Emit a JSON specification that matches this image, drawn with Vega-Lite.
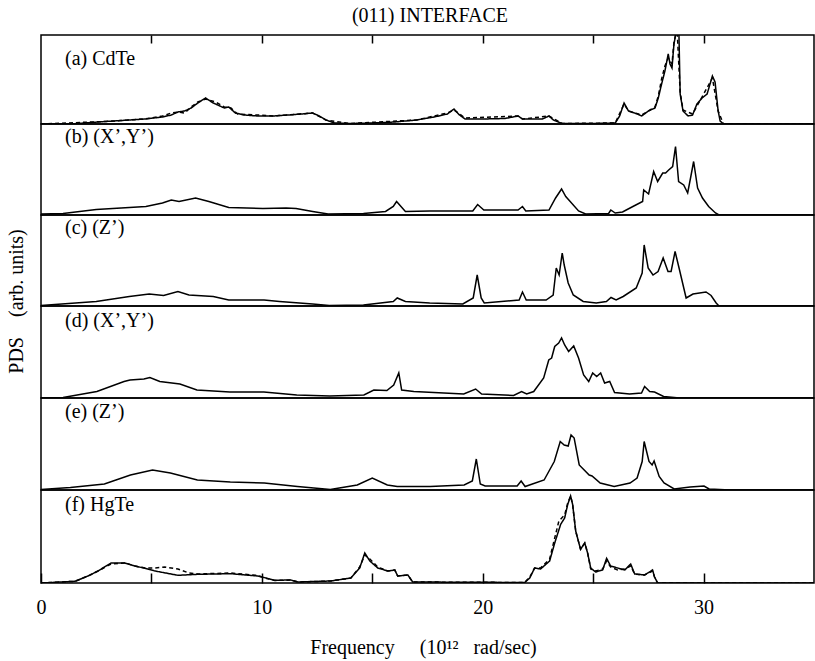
{
  "$schema": "https://vega.github.io/schema/vega-lite/v6.json",
  "padding": {"left": 5, "top": 5, "right": 0, "bottom": 5},
  "title": {"text": "(011) INTERFACE", "anchor": "middle", "dx": 20, "offset": 8},
  "spacing": 0,
  "bounds": "flush",
  "config": {
    "font": "Liberation Serif",
    "view": {"stroke": "black", "strokeWidth": 1.5},
    "concat": {"spacing": 0},
    "title": {"font": "Liberation Serif", "fontSize": 20, "fontWeight": "normal", "color": "black"},
    "axis": {"labelFont": "Liberation Serif", "titleFont": "Liberation Serif", "labelFontSize": 20, "titleFontSize": 20, "titleFontWeight": "normal", "labelColor": "black", "titleColor": "black", "tickColor": "black", "domain": false, "grid": false}
  },
  "datasets": {
    "a": [
      {"x":0,"y":0,"s":"solid"},{"x":1.5,"y":0.3,"s":"solid"},{"x":2.9,"y":2.5,"s":"solid"},{"x":4.0,"y":4,"s":"solid"},{"x":4.7,"y":5,"s":"solid"},{"x":5.5,"y":7,"s":"solid"},{"x":5.9,"y":9,"s":"solid"},{"x":6.2,"y":12,"s":"solid"},{"x":6.5,"y":13,"s":"solid"},{"x":6.8,"y":16,"s":"solid"},{"x":7.1,"y":21,"s":"solid"},{"x":7.45,"y":26,"s":"solid"},{"x":7.8,"y":21,"s":"solid"},{"x":8.3,"y":16,"s":"solid"},{"x":8.5,"y":17,"s":"solid"},{"x":8.8,"y":11,"s":"solid"},{"x":9.2,"y":9,"s":"solid"},{"x":9.8,"y":8,"s":"solid"},{"x":10.5,"y":8,"s":"solid"},{"x":11.2,"y":9,"s":"solid"},{"x":11.8,"y":10,"s":"solid"},{"x":12.3,"y":11,"s":"solid"},{"x":12.6,"y":8,"s":"solid"},{"x":12.9,"y":4,"s":"solid"},{"x":13.3,"y":1,"s":"solid"},{"x":14,"y":0.5,"s":"solid"},{"x":15,"y":1,"s":"solid"},{"x":16,"y":2,"s":"solid"},{"x":17,"y":4,"s":"solid"},{"x":17.8,"y":7,"s":"solid"},{"x":18.4,"y":10,"s":"solid"},{"x":18.7,"y":15,"s":"solid"},{"x":18.95,"y":9,"s":"solid"},{"x":19.2,"y":5,"s":"solid"},{"x":20,"y":5,"s":"solid"},{"x":21,"y":5.5,"s":"solid"},{"x":21.6,"y":8,"s":"solid"},{"x":21.8,"y":5,"s":"solid"},{"x":22.7,"y":5,"s":"solid"},{"x":23.0,"y":8,"s":"solid"},{"x":23.2,"y":4,"s":"solid"},{"x":23.6,"y":0.5,"s":"solid"},{"x":25,"y":0.5,"s":"solid"},{"x":26.0,"y":1,"s":"solid"},{"x":26.2,"y":8,"s":"solid"},{"x":26.4,"y":21,"s":"solid"},{"x":26.6,"y":13,"s":"solid"},{"x":27.0,"y":10,"s":"solid"},{"x":27.2,"y":8,"s":"solid"},{"x":27.5,"y":13,"s":"solid"},{"x":27.8,"y":16,"s":"solid"},{"x":27.95,"y":26,"s":"solid"},{"x":28.1,"y":40,"s":"solid"},{"x":28.25,"y":53,"s":"solid"},{"x":28.4,"y":70,"s":"solid"},{"x":28.48,"y":60,"s":"solid"},{"x":28.57,"y":56,"s":"solid"},{"x":28.66,"y":80,"s":"solid"},{"x":28.78,"y":95,"s":"solid"},{"x":28.88,"y":95,"s":"solid"},{"x":28.94,"y":30,"s":"solid"},{"x":29.07,"y":13,"s":"solid"},{"x":29.3,"y":8,"s":"solid"},{"x":29.5,"y":9,"s":"solid"},{"x":29.7,"y":20,"s":"solid"},{"x":29.93,"y":26,"s":"solid"},{"x":30.16,"y":30,"s":"solid"},{"x":30.4,"y":48,"s":"solid"},{"x":30.52,"y":42,"s":"solid"},{"x":30.66,"y":13,"s":"solid"},{"x":30.75,"y":3,"s":"solid"},{"x":30.9,"y":0,"s":"solid"},{"x":35,"y":0,"s":"solid"},
      {"x":0,"y":0,"s":"dashed"},{"x":2.9,"y":2.5,"s":"dashed"},{"x":4.7,"y":5,"s":"dashed"},{"x":5.5,"y":8,"s":"dashed"},{"x":5.9,"y":11,"s":"dashed"},{"x":6.2,"y":12,"s":"dashed"},{"x":6.5,"y":11,"s":"dashed"},{"x":6.8,"y":17,"s":"dashed"},{"x":7.1,"y":22,"s":"dashed"},{"x":7.45,"y":25,"s":"dashed"},{"x":7.9,"y":22,"s":"dashed"},{"x":8.3,"y":17,"s":"dashed"},{"x":8.6,"y":16,"s":"dashed"},{"x":8.9,"y":10,"s":"dashed"},{"x":9.8,"y":9,"s":"dashed"},{"x":10.5,"y":8,"s":"dashed"},{"x":12.3,"y":11,"s":"dashed"},{"x":12.9,"y":4,"s":"dashed"},{"x":14,"y":0.5,"s":"dashed"},{"x":17,"y":4,"s":"dashed"},{"x":18.4,"y":11,"s":"dashed"},{"x":18.7,"y":14,"s":"dashed"},{"x":19.2,"y":6,"s":"dashed"},{"x":21.6,"y":8,"s":"dashed"},{"x":21.8,"y":5,"s":"dashed"},{"x":23.0,"y":8,"s":"dashed"},{"x":23.6,"y":0.5,"s":"dashed"},{"x":26.0,"y":1,"s":"dashed"},{"x":26.4,"y":20,"s":"dashed"},{"x":26.6,"y":13,"s":"dashed"},{"x":27.2,"y":9,"s":"dashed"},{"x":27.8,"y":17,"s":"dashed"},{"x":27.95,"y":28,"s":"dashed"},{"x":28.1,"y":45,"s":"dashed"},{"x":28.25,"y":58,"s":"dashed"},{"x":28.4,"y":66,"s":"dashed"},{"x":28.57,"y":60,"s":"dashed"},{"x":28.66,"y":82,"s":"dashed"},{"x":28.8,"y":95,"s":"dashed"},{"x":28.94,"y":32,"s":"dashed"},{"x":29.07,"y":14,"s":"dashed"},{"x":29.5,"y":10,"s":"dashed"},{"x":29.93,"y":27,"s":"dashed"},{"x":30.4,"y":46,"s":"dashed"},{"x":30.66,"y":13,"s":"dashed"},{"x":30.9,"y":0,"s":"dashed"},{"x":35,"y":0,"s":"dashed"}
    ],
    "b": [
      {"x":0,"y":1,"s":"solid"},{"x":1,"y":1.5,"s":"solid"},{"x":2.5,"y":5.5,"s":"solid"},{"x":4.75,"y":8.5,"s":"solid"},{"x":5.5,"y":12,"s":"solid"},{"x":5.9,"y":15,"s":"solid"},{"x":6.25,"y":13.5,"s":"solid"},{"x":7.0,"y":17,"s":"solid"},{"x":7.6,"y":13.5,"s":"solid"},{"x":8.5,"y":7.5,"s":"solid"},{"x":10.05,"y":6.5,"s":"solid"},{"x":11.1,"y":7,"s":"solid"},{"x":11.55,"y":6.5,"s":"solid"},{"x":12.3,"y":3.5,"s":"solid"},{"x":13.0,"y":1,"s":"solid"},{"x":14.6,"y":1.5,"s":"solid"},{"x":15.6,"y":3.5,"s":"solid"},{"x":15.95,"y":8.5,"s":"solid"},{"x":16.1,"y":13.5,"s":"solid"},{"x":16.5,"y":3.5,"s":"solid"},{"x":17.6,"y":4,"s":"solid"},{"x":19.55,"y":4,"s":"solid"},{"x":19.77,"y":10.5,"s":"solid"},{"x":20.05,"y":5,"s":"solid"},{"x":21.6,"y":5,"s":"solid"},{"x":21.8,"y":8.5,"s":"solid"},{"x":21.95,"y":4,"s":"solid"},{"x":23.0,"y":5,"s":"solid"},{"x":23.3,"y":17,"s":"solid"},{"x":23.57,"y":26,"s":"solid"},{"x":23.76,"y":18.5,"s":"solid"},{"x":23.9,"y":15,"s":"solid"},{"x":24.34,"y":4,"s":"solid"},{"x":24.66,"y":1,"s":"solid"},{"x":25.7,"y":1.5,"s":"solid"},{"x":25.8,"y":5,"s":"solid"},{"x":26.0,"y":2,"s":"solid"},{"x":26.33,"y":3,"s":"solid"},{"x":26.8,"y":8.5,"s":"solid"},{"x":27.24,"y":13.5,"s":"solid"},{"x":27.29,"y":25,"s":"solid"},{"x":27.51,"y":21,"s":"solid"},{"x":27.74,"y":43.5,"s":"solid"},{"x":27.92,"y":33.5,"s":"solid"},{"x":28.15,"y":42,"s":"solid"},{"x":28.28,"y":42,"s":"solid"},{"x":28.42,"y":45,"s":"solid"},{"x":28.6,"y":48.5,"s":"solid"},{"x":28.73,"y":68.5,"s":"solid"},{"x":28.87,"y":33.5,"s":"solid"},{"x":29.1,"y":30,"s":"solid"},{"x":29.28,"y":22,"s":"solid"},{"x":29.41,"y":37,"s":"solid"},{"x":29.55,"y":53.5,"s":"solid"},{"x":29.73,"y":27,"s":"solid"},{"x":29.95,"y":17,"s":"solid"},{"x":30.23,"y":8.5,"s":"solid"},{"x":30.54,"y":2,"s":"solid"},{"x":30.7,"y":0,"s":"solid"},{"x":35,"y":0,"s":"solid"}
    ],
    "c": [
      {"x":0,"y":0.5,"s":"solid"},{"x":2.5,"y":4.5,"s":"solid"},{"x":4.0,"y":9.5,"s":"solid"},{"x":4.9,"y":12,"s":"solid"},{"x":5.55,"y":10.5,"s":"solid"},{"x":6.2,"y":14.5,"s":"solid"},{"x":6.7,"y":11,"s":"solid"},{"x":7.8,"y":9.5,"s":"solid"},{"x":8.5,"y":6,"s":"solid"},{"x":10.1,"y":6,"s":"solid"},{"x":10.8,"y":4.5,"s":"solid"},{"x":12.3,"y":2,"s":"solid"},{"x":13.05,"y":0.5,"s":"solid"},{"x":14.6,"y":1,"s":"solid"},{"x":15.95,"y":4.5,"s":"solid"},{"x":16.13,"y":8,"s":"solid"},{"x":16.5,"y":4.5,"s":"solid"},{"x":17.6,"y":3,"s":"solid"},{"x":19.1,"y":2,"s":"solid"},{"x":19.57,"y":8,"s":"solid"},{"x":19.75,"y":31,"s":"solid"},{"x":19.93,"y":8,"s":"solid"},{"x":20.07,"y":3,"s":"solid"},{"x":21.65,"y":6,"s":"solid"},{"x":21.8,"y":14,"s":"solid"},{"x":21.97,"y":6,"s":"solid"},{"x":22.87,"y":6,"s":"solid"},{"x":23.19,"y":11,"s":"solid"},{"x":23.33,"y":38,"s":"solid"},{"x":23.46,"y":31,"s":"solid"},{"x":23.6,"y":53,"s":"solid"},{"x":23.69,"y":41,"s":"solid"},{"x":23.87,"y":23,"s":"solid"},{"x":24.1,"y":11,"s":"solid"},{"x":24.55,"y":4.5,"s":"solid"},{"x":25.14,"y":3,"s":"solid"},{"x":25.6,"y":4.5,"s":"solid"},{"x":25.81,"y":8.5,"s":"solid"},{"x":26.04,"y":6,"s":"solid"},{"x":26.36,"y":9.5,"s":"solid"},{"x":26.95,"y":18,"s":"solid"},{"x":27.22,"y":33,"s":"solid"},{"x":27.31,"y":61,"s":"solid"},{"x":27.49,"y":38,"s":"solid"},{"x":27.71,"y":31,"s":"solid"},{"x":27.94,"y":34.5,"s":"solid"},{"x":28.17,"y":48,"s":"solid"},{"x":28.39,"y":34.5,"s":"solid"},{"x":28.53,"y":34.5,"s":"solid"},{"x":28.71,"y":54.5,"s":"solid"},{"x":28.89,"y":38,"s":"solid"},{"x":29.21,"y":8,"s":"solid"},{"x":29.52,"y":12,"s":"solid"},{"x":30.11,"y":14,"s":"solid"},{"x":30.34,"y":10.5,"s":"solid"},{"x":30.57,"y":3,"s":"solid"},{"x":30.7,"y":0,"s":"solid"},{"x":35,"y":0,"s":"solid"}
    ],
    "d": [
      {"x":0,"y":0,"s":"solid"},{"x":1,"y":0.5,"s":"solid"},{"x":2.53,"y":6.5,"s":"solid"},{"x":3.76,"y":16.5,"s":"solid"},{"x":4.03,"y":18,"s":"solid"},{"x":4.66,"y":19,"s":"solid"},{"x":4.93,"y":20.5,"s":"solid"},{"x":5.38,"y":16.5,"s":"solid"},{"x":6.29,"y":14,"s":"solid"},{"x":7.06,"y":8,"s":"solid"},{"x":8.55,"y":6,"s":"solid"},{"x":10.09,"y":6,"s":"solid"},{"x":11.58,"y":3,"s":"solid"},{"x":13.08,"y":2,"s":"solid"},{"x":14.62,"y":3,"s":"solid"},{"x":15.07,"y":8,"s":"solid"},{"x":15.66,"y":7.5,"s":"solid"},{"x":15.97,"y":13,"s":"solid"},{"x":16.2,"y":25,"s":"solid"},{"x":16.33,"y":8,"s":"solid"},{"x":16.88,"y":6.5,"s":"solid"},{"x":19.14,"y":4,"s":"solid"},{"x":19.68,"y":9,"s":"solid"},{"x":19.95,"y":4,"s":"solid"},{"x":21.4,"y":2.5,"s":"solid"},{"x":21.76,"y":6.5,"s":"solid"},{"x":21.99,"y":4,"s":"solid"},{"x":22.31,"y":6.5,"s":"solid"},{"x":22.76,"y":20,"s":"solid"},{"x":22.99,"y":38,"s":"solid"},{"x":23.12,"y":40,"s":"solid"},{"x":23.26,"y":51.5,"s":"solid"},{"x":23.44,"y":55,"s":"solid"},{"x":23.57,"y":60,"s":"solid"},{"x":23.71,"y":53,"s":"solid"},{"x":23.89,"y":46.5,"s":"solid"},{"x":24.12,"y":52,"s":"solid"},{"x":24.34,"y":40,"s":"solid"},{"x":24.57,"y":23,"s":"solid"},{"x":24.8,"y":16.5,"s":"solid"},{"x":24.98,"y":25,"s":"solid"},{"x":25.16,"y":21.5,"s":"solid"},{"x":25.34,"y":25,"s":"solid"},{"x":25.52,"y":15,"s":"solid"},{"x":25.75,"y":16.5,"s":"solid"},{"x":25.97,"y":5.5,"s":"solid"},{"x":26.65,"y":4,"s":"solid"},{"x":27.19,"y":5,"s":"solid"},{"x":27.33,"y":11.5,"s":"solid"},{"x":27.56,"y":6.5,"s":"solid"},{"x":27.78,"y":6,"s":"solid"},{"x":28.19,"y":1.5,"s":"solid"},{"x":28.91,"y":0,"s":"solid"},{"x":35,"y":0,"s":"solid"}
    ],
    "e": [
      {"x":0,"y":0.5,"s":"solid"},{"x":1.33,"y":2.5,"s":"solid"},{"x":2.87,"y":6,"s":"solid"},{"x":4.05,"y":15,"s":"solid"},{"x":5.05,"y":20,"s":"solid"},{"x":5.86,"y":17,"s":"solid"},{"x":7.08,"y":10,"s":"solid"},{"x":8.57,"y":8,"s":"solid"},{"x":10.11,"y":7,"s":"solid"},{"x":11.61,"y":3.5,"s":"solid"},{"x":13.1,"y":0.5,"s":"solid"},{"x":14.32,"y":5,"s":"solid"},{"x":15.0,"y":12,"s":"solid"},{"x":15.68,"y":5,"s":"solid"},{"x":16.13,"y":3.5,"s":"solid"},{"x":17.62,"y":3.5,"s":"solid"},{"x":19.16,"y":5,"s":"solid"},{"x":19.53,"y":9,"s":"solid"},{"x":19.71,"y":31,"s":"solid"},{"x":19.89,"y":6,"s":"solid"},{"x":20.11,"y":4,"s":"solid"},{"x":21.56,"y":4,"s":"solid"},{"x":21.74,"y":9,"s":"solid"},{"x":21.92,"y":3.5,"s":"solid"},{"x":22.78,"y":10,"s":"solid"},{"x":23.24,"y":28.5,"s":"solid"},{"x":23.51,"y":48.5,"s":"solid"},{"x":23.69,"y":45,"s":"solid"},{"x":23.87,"y":44,"s":"solid"},{"x":24.0,"y":55,"s":"solid"},{"x":24.14,"y":52,"s":"solid"},{"x":24.37,"y":25,"s":"solid"},{"x":24.82,"y":15,"s":"solid"},{"x":24.95,"y":14,"s":"solid"},{"x":25.32,"y":7,"s":"solid"},{"x":25.95,"y":3.5,"s":"solid"},{"x":26.67,"y":7,"s":"solid"},{"x":26.99,"y":12,"s":"solid"},{"x":27.22,"y":28.5,"s":"solid"},{"x":27.31,"y":48.5,"s":"solid"},{"x":27.53,"y":28.5,"s":"solid"},{"x":27.67,"y":25,"s":"solid"},{"x":27.76,"y":29,"s":"solid"},{"x":27.99,"y":13.5,"s":"solid"},{"x":28.21,"y":7,"s":"solid"},{"x":28.67,"y":1,"s":"solid"},{"x":29.39,"y":3,"s":"solid"},{"x":30.02,"y":4,"s":"solid"},{"x":30.25,"y":1,"s":"solid"},{"x":31.2,"y":0,"s":"solid"},{"x":35,"y":0,"s":"solid"}
    ],
    "f": [
      {"x":0,"y":0,"s":"solid"},{"x":1.54,"y":1.7,"s":"solid"},{"x":2.13,"y":7,"s":"solid"},{"x":2.58,"y":12,"s":"solid"},{"x":3.17,"y":20,"s":"solid"},{"x":3.8,"y":20,"s":"solid"},{"x":4.25,"y":17,"s":"solid"},{"x":4.71,"y":14.7,"s":"solid"},{"x":5.16,"y":12,"s":"solid"},{"x":6.2,"y":7.7,"s":"solid"},{"x":7.1,"y":8.7,"s":"solid"},{"x":8.6,"y":9.3,"s":"solid"},{"x":9.82,"y":7,"s":"solid"},{"x":10.14,"y":5.3,"s":"solid"},{"x":10.59,"y":2.7,"s":"solid"},{"x":11.31,"y":3,"s":"solid"},{"x":11.63,"y":1,"s":"solid"},{"x":13.12,"y":2,"s":"solid"},{"x":14.03,"y":5,"s":"solid"},{"x":14.43,"y":15,"s":"solid"},{"x":14.66,"y":30,"s":"solid"},{"x":14.89,"y":22,"s":"solid"},{"x":15.25,"y":15,"s":"solid"},{"x":15.7,"y":12,"s":"solid"},{"x":16.02,"y":13,"s":"solid"},{"x":16.15,"y":7,"s":"solid"},{"x":16.61,"y":8,"s":"solid"},{"x":16.83,"y":1,"s":"solid"},{"x":21.9,"y":0.5,"s":"solid"},{"x":22.13,"y":5,"s":"solid"},{"x":22.35,"y":15,"s":"solid"},{"x":22.62,"y":14,"s":"solid"},{"x":23.03,"y":22,"s":"solid"},{"x":23.26,"y":40,"s":"solid"},{"x":23.53,"y":58.7,"s":"solid"},{"x":23.71,"y":65,"s":"solid"},{"x":23.85,"y":78.7,"s":"solid"},{"x":23.98,"y":87,"s":"solid"},{"x":24.07,"y":78.7,"s":"solid"},{"x":24.21,"y":52,"s":"solid"},{"x":24.43,"y":33.7,"s":"solid"},{"x":24.62,"y":40,"s":"solid"},{"x":24.75,"y":30,"s":"solid"},{"x":24.89,"y":15,"s":"solid"},{"x":25.11,"y":11,"s":"solid"},{"x":25.43,"y":13,"s":"solid"},{"x":25.61,"y":24.7,"s":"solid"},{"x":25.79,"y":17,"s":"solid"},{"x":26.11,"y":15,"s":"solid"},{"x":26.43,"y":13,"s":"solid"},{"x":26.7,"y":19,"s":"solid"},{"x":26.88,"y":9,"s":"solid"},{"x":27.33,"y":8,"s":"solid"},{"x":27.69,"y":13,"s":"solid"},{"x":27.78,"y":6,"s":"solid"},{"x":27.92,"y":0,"s":"solid"},{"x":35,"y":0,"s":"solid"},
      {"x":0,"y":0,"s":"dashed"},{"x":1.54,"y":1.7,"s":"dashed"},{"x":2.13,"y":7,"s":"dashed"},{"x":2.58,"y":12,"s":"dashed"},{"x":3.17,"y":19,"s":"dashed"},{"x":3.8,"y":20,"s":"dashed"},{"x":4.25,"y":17,"s":"dashed"},{"x":4.71,"y":15,"s":"dashed"},{"x":5.16,"y":15,"s":"dashed"},{"x":5.6,"y":16,"s":"dashed"},{"x":6.2,"y":14,"s":"dashed"},{"x":6.7,"y":10,"s":"dashed"},{"x":7.1,"y":9,"s":"dashed"},{"x":8.6,"y":10,"s":"dashed"},{"x":9.82,"y":7.5,"s":"dashed"},{"x":10.14,"y":5,"s":"dashed"},{"x":10.59,"y":2.5,"s":"dashed"},{"x":11.31,"y":3,"s":"dashed"},{"x":11.63,"y":1,"s":"dashed"},{"x":13.12,"y":2,"s":"dashed"},{"x":14.03,"y":5,"s":"dashed"},{"x":14.43,"y":16,"s":"dashed"},{"x":14.66,"y":28,"s":"dashed"},{"x":14.89,"y":24,"s":"dashed"},{"x":15.25,"y":16,"s":"dashed"},{"x":15.7,"y":12,"s":"dashed"},{"x":16.02,"y":13,"s":"dashed"},{"x":16.15,"y":7,"s":"dashed"},{"x":16.61,"y":8,"s":"dashed"},{"x":16.83,"y":1,"s":"dashed"},{"x":21.9,"y":0.5,"s":"dashed"},{"x":22.13,"y":6,"s":"dashed"},{"x":22.35,"y":15,"s":"dashed"},{"x":22.62,"y":15,"s":"dashed"},{"x":23.03,"y":24,"s":"dashed"},{"x":23.26,"y":45,"s":"dashed"},{"x":23.45,"y":62,"s":"dashed"},{"x":23.71,"y":68,"s":"dashed"},{"x":23.85,"y":80,"s":"dashed"},{"x":23.98,"y":87,"s":"dashed"},{"x":24.07,"y":78.7,"s":"dashed"},{"x":24.21,"y":52,"s":"dashed"},{"x":24.43,"y":33.7,"s":"dashed"},{"x":24.62,"y":40,"s":"dashed"},{"x":24.75,"y":30,"s":"dashed"},{"x":24.89,"y":14,"s":"dashed"},{"x":25.11,"y":12,"s":"dashed"},{"x":25.43,"y":14,"s":"dashed"},{"x":25.61,"y":22,"s":"dashed"},{"x":25.79,"y":16,"s":"dashed"},{"x":26.11,"y":13,"s":"dashed"},{"x":26.43,"y":14,"s":"dashed"},{"x":26.7,"y":17,"s":"dashed"},{"x":26.88,"y":9,"s":"dashed"},{"x":27.33,"y":8,"s":"dashed"},{"x":27.69,"y":12,"s":"dashed"},{"x":27.78,"y":6,"s":"dashed"},{"x":27.92,"y":0,"s":"dashed"},{"x":35,"y":0,"s":"dashed"}
    ]
  },
  "vconcat": [
    {
      "width": 773, "height": 89,
      "data": {"name": "a"},
      "title": {"text": "(a) CdTe", "anchor": "start", "frame": "group", "offset": -35, "dx": 24},
      "mark": {"type": "line", "color": "black", "strokeWidth": 1.5, "clip": true},
      "encoding": {
        "x": {"field": "x", "type": "quantitative", "scale": {"domain": [0, 35], "nice": false, "zero": false}, "axis": {"orient": "top", "labels": false, "title": null, "values": [5, 10, 15, 20, 25, 30], "tickSize": -8, "tickWidth": 1.5}},
        "y": {"field": "y", "type": "quantitative", "scale": {"domain": [0, 89], "nice": false}, "axis": null},
        "detail": {"field": "s"},
        "strokeDash": {"field": "s", "type": "nominal", "scale": {"domain": ["solid", "dashed"], "range": [[1, 0], [4, 3]]}, "legend": null}
      }
    },
    {
      "width": 773, "height": 91,
      "data": {"name": "b"},
      "title": {"text": "(b) (X’,Y’)", "anchor": "start", "frame": "group", "offset": -23, "dx": 24},
      "mark": {"type": "line", "color": "black", "strokeWidth": 1.5, "clip": true},
      "encoding": {
        "x": {"field": "x", "type": "quantitative", "scale": {"domain": [0, 35], "nice": false, "zero": false}, "axis": null},
        "y": {"field": "y", "type": "quantitative", "scale": {"domain": [0, 91], "nice": false}, "axis": null}
      }
    },
    {
      "width": 773, "height": 91,
      "data": {"name": "c"},
      "title": {"text": "(c) (Z’)", "anchor": "start", "frame": "group", "offset": -23, "dx": 24},
      "mark": {"type": "line", "color": "black", "strokeWidth": 1.5, "clip": true},
      "encoding": {
        "x": {"field": "x", "type": "quantitative", "scale": {"domain": [0, 35], "nice": false, "zero": false}, "axis": null},
        "y": {"field": "y", "type": "quantitative", "scale": {"domain": [0, 91], "nice": false}, "axis": {"labels": false, "ticks": false, "domain": false, "title": "PDS\u00a0\u00a0\u00a0\u00a0(arb. units)", "titleX": -15, "titleY": 86, "titleBaseline": "bottom"}}
      }
    },
    {
      "width": 773, "height": 92,
      "data": {"name": "d"},
      "title": {"text": "(d) (X’,Y’)", "anchor": "start", "frame": "group", "offset": -25, "dx": 24},
      "mark": {"type": "line", "color": "black", "strokeWidth": 1.5, "clip": true},
      "encoding": {
        "x": {"field": "x", "type": "quantitative", "scale": {"domain": [0, 35], "nice": false, "zero": false}, "axis": null},
        "y": {"field": "y", "type": "quantitative", "scale": {"domain": [0, 92], "nice": false}, "axis": null}
      }
    },
    {
      "width": 773, "height": 92,
      "data": {"name": "e"},
      "title": {"text": "(e) (Z’)", "anchor": "start", "frame": "group", "offset": -24, "dx": 24},
      "mark": {"type": "line", "color": "black", "strokeWidth": 1.5, "clip": true},
      "encoding": {
        "x": {"field": "x", "type": "quantitative", "scale": {"domain": [0, 35], "nice": false, "zero": false}, "axis": null},
        "y": {"field": "y", "type": "quantitative", "scale": {"domain": [0, 92], "nice": false}, "axis": null}
      }
    },
    {
      "width": 773, "height": 93,
      "data": {"name": "f"},
      "title": {"text": "(f) HgTe", "anchor": "start", "frame": "group", "offset": -25, "dx": 24},
      "mark": {"type": "line", "color": "black", "strokeWidth": 1.5, "clip": true},
      "encoding": {
        "x": {"field": "x", "type": "quantitative", "scale": {"domain": [0, 35], "nice": false, "zero": false}, "axis": {"orient": "bottom", "values": [0, 5, 10, 15, 20, 25, 30], "labelExpr": "datum.value % 10 === 0 ? datum.label : ''", "labelFlush": false, "tickSize": -10, "tickWidth": 1.5, "labelPadding": 24, "title": "Frequency\u00a0\u00a0\u00a0\u00a0\u00a0(10¹²\u00a0\u00a0\u00a0rad/sec)", "titleX": 382, "titlePadding": 20}},
        "y": {"field": "y", "type": "quantitative", "scale": {"domain": [0, 93], "nice": false}, "axis": null},
        "detail": {"field": "s"},
        "strokeDash": {"field": "s", "type": "nominal", "scale": {"domain": ["solid", "dashed"], "range": [[1, 0], [4, 3]]}, "legend": null}
      }
    }
  ]
}
